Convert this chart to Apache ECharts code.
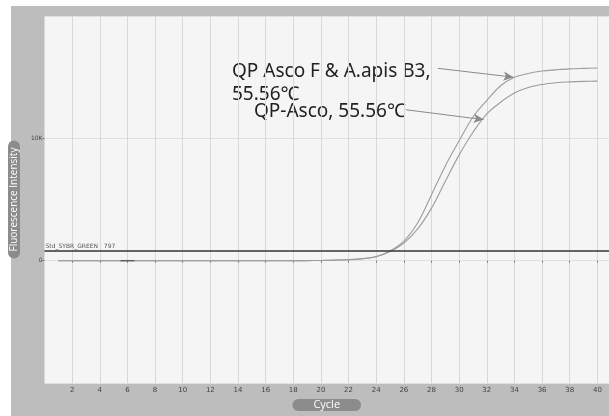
<!DOCTYPE html>
<html><head><meta charset="utf-8">
<script src="https://cdn.jsdelivr.net/npm/echarts@6/dist/echarts.min.js"></script>
<style>
html,body{margin:0;padding:0;background:#fff;}
#wrap{position:relative;width:609px;height:416px;background:#fff;}
#bg{position:absolute;left:11px;top:6px;width:598px;height:410px;background:#bdbdbd;}
#chart{position:absolute;left:0;top:0;width:609px;height:416px;}
</style></head>
<body><div id="wrap"><div id="bg"></div><div id="chart"></div></div>
<script>
const cycles = [1,2,3,4,5,6,7,8,9,10,11,12,13,14,15,16,17,18,19,20,21,22,23,24,25,26,27,28,29,30,31,32,33,34,35,36,37,38,39,40];
const asconApis = [0,0,0,0,0,0,0,0,0,0,0,0,0,0,0,0,0,5,10,20,50,90,170,350,800,1600,3100,5400,7750,9800,11750,13100,14300,15000,15300,15500,15600,15680,15720,15750];
const qpAsco = [0,0,0,0,0,0,0,0,0,0,0,0,0,0,0,0,0,5,10,20,45,85,160,330,750,1450,2600,4300,6500,8650,10500,12000,12950,13700,14150,14400,14550,14620,14660,14680];
const shortTraceX = [5.5,6.5];
const shortTraceY = [0,0];
const threshold = 797;
const thresholdName = 'Std_SYBR_GREEN   797';
const label1 = ['QP Asco F & A.apis B3,', '55.56℃'];
const label2 = 'QP-Asco, 55.56℃';
const arrow1 = [[28.45,15726],[33.93,15000]];
const arrow2 = [[26.14,12339],[31.77,11532]];

const zip = (xs, ys) => xs.map((x,i)=>[x, ys[i]]);
const curveColor = '#9c9c9c';
const annFont = '19px "Noto Sans", "Noto Sans CJK KR", sans-serif';
const chart = echarts.init(document.getElementById('chart'), null, {renderer:'canvas'});
chart.setOption({
  backgroundColor: 'transparent',
  animation: false,
  grid: {left:43, right:0, top:16, height:372, show:true, backgroundColor:'#f5f5f5', borderWidth:0},
  xAxis: {
    type:'value', min:0, max:40.84, interval:2,
    name:'Cycle', nameLocation:'middle', nameGap:13,
    nameTextStyle:{color:'#fff', backgroundColor:'#8c8c8c', borderRadius:6, padding:[0,21,0,21], fontSize:11, fontFamily:'Open Sans', lineHeight:12},
    axisLine:{show:false},
    axisTick:{show:true, length:2, lineStyle:{color:'#777'}},
    axisLabel:{fontSize:7, color:'#444', margin:4, showMinLabel:false, showMaxLabel:false, fontFamily:'DejaVu Sans'},
    splitLine:{show:true, lineStyle:{color:'#d9d9d9', width:1}}
  },
  yAxis: {
    type:'value', min:-10000, max:20000, interval:10000,
    name:'Fluorescence Intensity', nameLocation:'middle', nameGap:24,
    nameTextStyle:{color:'#fff', backgroundColor:'#8c8c8c', borderRadius:6, padding:[0,7,0,7], fontSize:10, fontFamily:'Open Sans', lineHeight:12},
    axisLine:{show:false},
    axisTick:{show:true, length:2, lineStyle:{color:'#777'}},
    axisLabel:{fontSize:6, color:'#444', margin:2, showMinLabel:false, showMaxLabel:false, fontFamily:'DejaVu Sans',
      formatter: v => v===10000 ? '10K' : (v===0 ? '0' : '')},
    splitLine:{show:true, lineStyle:{color:'#e0e0e0', width:1}}
  },
  series: [
    {type:'line', name:'QP Asco F & A.apis B3', data: zip(cycles, asconApis), showSymbol:false, smooth:0.35,
     lineStyle:{color:curveColor, width:1.1},
     markLine:{silent:true, symbol:['none','arrow'], symbolSize:[7,10], lineStyle:{color:'#8a8a8a', width:1, type:'solid'}, label:{show:false},
       data:[[{coord:arrow1[0]},{coord:arrow1[1]}],[{coord:arrow2[0]},{coord:arrow2[1]}]]}},
    {type:'line', name:'QP-Asco', data: zip(cycles, qpAsco), showSymbol:false, smooth:0.35,
     lineStyle:{color:curveColor, width:1.1},
     markLine:{silent:true, symbol:'none', lineStyle:{color:'#333', width:1.6, type:'solid'},
       label:{show:true, position:'insideStartTop', formatter:thresholdName, fontSize:6, color:'#555', distance:[1,2], fontFamily:'DejaVu Sans'},
       data:[{yAxis:threshold}]}},
    {type:'line', name:'trace', data: zip(shortTraceX, shortTraceY), showSymbol:false, lineStyle:{color:'#444', width:1.2}}
  ],
  graphic: [
    {type:'text', left:232, top:60, style:{text:label1.join('\n'), font:annFont, fill:'#222', lineHeight:23}},
    {type:'text', left:254, top:102, style:{text:label2, font:annFont, fill:'#222'}}
  ]
});
</script></body></html>
